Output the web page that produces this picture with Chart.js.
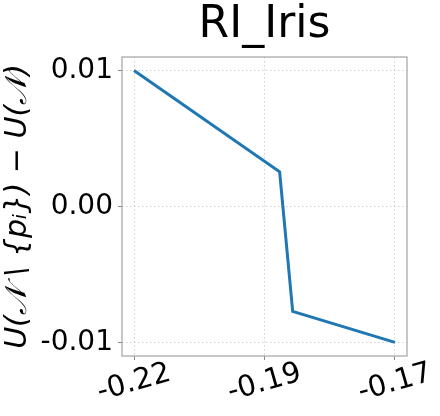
<!DOCTYPE html>
<html>
<head>
<meta charset="utf-8">
<script src="https://cdn.jsdelivr.net/npm/chart.js@4"></script>
<style>
    html, body { margin: 0; padding: 0; background: #fff; }
</style>
</head>
<body>
<canvas id="riIrisChart" width="440" height="416"></canvas>
<script>
// values
const xValues = [-0.2200, -0.1921, -0.1896, -0.1700];
const yValues = [0.0100, 0.00255, -0.00772, -0.0100];

const xTicks = [-0.22, -0.195, -0.17];
const xTickLabels = ["-0.22", "-0.19", "-0.17"];
const yTicks = [-0.01, 0, 0.01];
const yTickLabels = ["-0.01", "0.00", "0.01"];

const chartTitle = "RI_Iris";
const yAxisTitle = "U(\u{1D4A9} \\ {p\u1D62}) \u2212 U(\u{1D4A9})";

const FONT = "'DejaVu Sans', sans-serif";

// title centred over the plot area, not the whole canvas
const titlePlugin = {
    id: "axesTitle",
    afterDraw(chart) {
        const { ctx, chartArea: a } = chart;
        ctx.save();
        ctx.font = "44px " + FONT;
        ctx.fillStyle = "#000";
        ctx.textAlign = "center";
        ctx.textBaseline = "alphabetic";
        ctx.fillText(chartTitle, (a.left + a.right) / 2, 37);
        ctx.restore();
    }
};

// rotated, centred x tick labels (Chart.js right-aligns rotated labels)
const xLabelPlugin = {
    id: "xLabels",
    afterDraw(chart) {
        const ctx = chart.ctx;
        const xScale = chart.scales.x;
        const y0 = chart.chartArea.bottom + 27;
        ctx.save();
        ctx.font = "29px " + FONT;
        ctx.fillStyle = "#000";
        ctx.textAlign = "center";
        ctx.textBaseline = "middle";
        xTicks.forEach((v, i) => {
            ctx.save();
            ctx.translate(xScale.getPixelForValue(v), y0);
            ctx.rotate(-16 * Math.PI / 180);
            ctx.fillText(xTickLabels[i], 0, 0);
            ctx.restore();
        });
        ctx.restore();
    }
};

// box around the plot area
const framePlugin = {
    id: "frame",
    afterDatasetsDraw(chart) {
        const { ctx, chartArea: a } = chart;
        ctx.save();
        ctx.strokeStyle = "#aaaaaa";
        ctx.lineWidth = 1.3;
        ctx.strokeRect(a.left, a.top, a.right - a.left, a.bottom - a.top);
        ctx.restore();
    }
};

const ctx = document.getElementById("riIrisChart").getContext("2d");

new Chart(ctx, {
    type: "line",
    data: {
        datasets: [{
            data: xValues.map((x, i) => ({ x: x, y: yValues[i] })),
            borderColor: "#1f77b4",
            borderWidth: 3,
            pointRadius: 0,
            tension: 0,
            fill: false
        }]
    },
    options: {
        responsive: false,
        animation: false,
        devicePixelRatio: 1,
        layout: {
            padding: { left: 0, right: 33, top: 57, bottom: 0 }
        },
        plugins: {
            legend: { display: false },
            tooltip: { enabled: false },
            title: { display: false }
        },
        scales: {
            x: {
                type: "linear",
                min: -0.2223,
                max: -0.1677,
                afterBuildTicks: scale => {
                    scale.ticks = xTicks.map(v => ({ value: v }));
                },
                afterFit: scale => { scale.height = 60; },
                ticks: { display: false },
                grid: {
                    color: "#d0d0d0",
                    tickColor: "#888888",
                    tickLength: 4,
                    lineWidth: 1
                },
                border: { display: false, dash: [1.5, 2.5] }
            },
            y: {
                min: -0.011,
                max: 0.011,
                afterBuildTicks: scale => {
                    scale.ticks = yTicks.map(v => ({ value: v }));
                },
                afterFit: scale => { scale.width = 122; },
                ticks: {
                    color: "#000",
                    padding: 5,
                    font: { family: FONT, size: 28 },
                    callback: value => {
                        const i = yTicks.findIndex(t => Math.abs(t - value) < 1e-9);
                        return i >= 0 ? yTickLabels[i] : "";
                    }
                },
                grid: {
                    color: "#d0d0d0",
                    tickColor: "#888888",
                    tickLength: 4,
                    lineWidth: 1
                },
                border: { display: false, dash: [1.5, 2.5] },
                title: {
                    display: true,
                    text: yAxisTitle,
                    color: "#000",
                    font: { family: FONT, size: 30, style: "italic", lineHeight: 1.2 },
                    padding: { top: 0, bottom: 0 }
                }
            }
        }
    },
    plugins: [titlePlugin, xLabelPlugin, framePlugin]
});
</script>
</body>
</html>
